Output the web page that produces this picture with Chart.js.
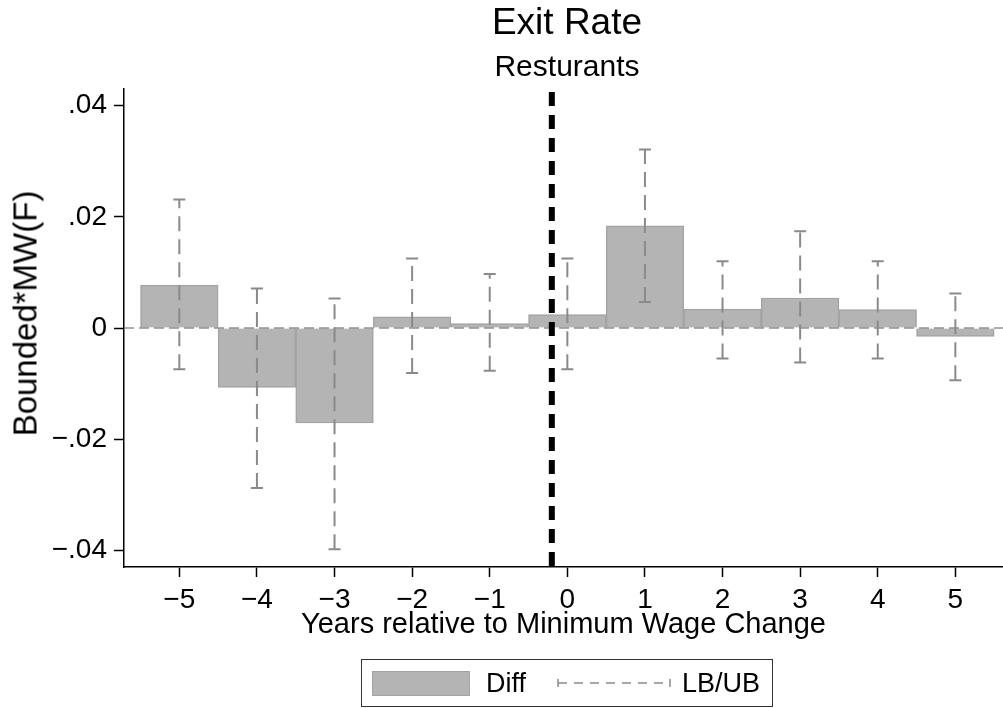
<!DOCTYPE html>
<html>
<head>
<meta charset="utf-8">
<script src="https://cdn.jsdelivr.net/npm/chart.js@4.4.1/dist/chart.umd.min.js"></script>
<style>
  body { margin: 0; background: #fff; font-family: "Liberation Sans", Arial, sans-serif; }
  #wrap { position: relative; width: 1003px; height: 708px; overflow: hidden; }
  .ttl { position: absolute; left: 0; width: 1134px; text-align: center; color: #000; white-space: nowrap; }
  #t1 { top: 3px; font-size: 37px; line-height: 37px; }
  #t2 { top: 51px; font-size: 30px; line-height: 30px; }
  #ytitle { position: absolute; left: -125px; top: 297px; width: 300px; height: 33px; line-height: 33px;
            font-size: 33px; text-align: center; color: #000; white-space: nowrap; transform: rotate(-90deg); }
  #legend { position: absolute; left: 361px; top: 659px; width: 410px; height: 46px; border: 1.5px solid #333; }
  #legend .sw { position: absolute; left: 10px; top: 11px; width: 96px; height: 23px; background: #b4b4b4; border: 1.5px solid #a3a3a3; }
  #legend .txt { position: absolute; top: 6px; font-size: 27px; line-height: 34px; color: #000; }
  #legend svg { position: absolute; left: 194px; top: 15px; }
</style>
</head>
<body>
<div id="wrap">
  <canvas id="chart" width="1003" height="708"></canvas>
  <div class="ttl" id="t1">Exit Rate</div>
  <div class="ttl" id="t2">Resturants</div>
  <div id="ytitle">Bounded*MW(F)</div>
  <div id="legend">
    <div class="sw"></div>
    <div class="txt" style="left:124px">Diff</div>
    <svg width="116" height="16" viewBox="0 0 116 16">
      <line x1="2" y1="4" x2="2" y2="12" stroke="#8a8a8a" stroke-width="1.5"/>
      <line x1="2" y1="8" x2="114" y2="8" stroke="#8a8a8a" stroke-width="1.5" stroke-dasharray="9 7"/>
      <line x1="114" y1="4" x2="114" y2="12" stroke="#8a8a8a" stroke-width="1.5"/>
    </svg>
    <div class="txt" style="left:320px">LB/UB</div>
  </div>
</div>
<script>
// Werte
let years = [-5, -4, -3, -2, -1, 0, 1, 2, 3, 4, 5];
let diff = [0.0077, -0.0107, -0.0171, 0.0020, 0.0008, 0.0024, 0.0184, 0.0034, 0.0054, 0.0033, -0.0015];
let upper = [0.0231, 0.0071, 0.0053, 0.0125, 0.0097, 0.0125, 0.0321, 0.0120, 0.0174, 0.0120, 0.0062];
let lower = [-0.0074, -0.0288, -0.0398, -0.0081, -0.0077, -0.0074, 0.0047, -0.0055, -0.0062, -0.0055, -0.0094];
let yTicks = [-0.04, -0.02, 0, 0.02, 0.04];
let eventLine = -0.2;

Chart.defaults.font.family = '"Liberation Sans", Arial, sans-serif';
Chart.defaults.color = '#000';

// Formatierung wie Stata: .04, −.02
function fmtY(v) {
  if (Math.abs(v) < 1e-9) return '0';
  return (v < 0 ? '\u2212' : '') + Math.abs(v).toFixed(2).replace(/^0/, '');
}
function fmtX(v) {
  return v < 0 ? '\u2212' + Math.abs(v) : String(v);
}

// Nulllinie, Ereignislinie und Konfidenzintervalle
let overlayPlugin = {
  id: 'overlay',
  afterDatasetsDraw(chart) {
    let ctx = chart.ctx, x = chart.scales.x, y = chart.scales.y, area = chart.chartArea;
    ctx.save();

    // zero line
    let y0 = y.getPixelForValue(0);
    ctx.strokeStyle = '#5a5a5a';
    ctx.lineWidth = 1;
    ctx.setLineDash([10, 5]);
    ctx.beginPath();
    ctx.moveTo(area.left, y0);
    ctx.lineTo(area.right, y0);
    ctx.stroke();

    // error bars
    ctx.strokeStyle = '#8a8a8a';
    ctx.lineWidth = 2;
    years.forEach((yr, i) => {
      let px = x.getPixelForValue(yr);
      let top = y.getPixelForValue(upper[i]);
      let bot = y.getPixelForValue(lower[i]);
      ctx.setLineDash([15, 8]);
      ctx.beginPath();
      ctx.moveTo(px, bot);
      ctx.lineTo(px, top);
      ctx.stroke();
      ctx.setLineDash([]);
      ctx.beginPath();
      ctx.moveTo(px - 6, top); ctx.lineTo(px + 6, top);
      ctx.moveTo(px - 6, bot); ctx.lineTo(px + 6, bot);
      ctx.stroke();
    });

    // vertical event line
    let xe = x.getPixelForValue(eventLine);
    ctx.strokeStyle = '#000';
    ctx.lineWidth = 6;
    ctx.setLineDash([14, 9]);
    ctx.beginPath();
    ctx.moveTo(xe, area.top + 3);
    ctx.lineTo(xe, area.bottom);
    ctx.stroke();
    ctx.restore();
  }
};

let config = {
  type: 'bar',
  data: {
    datasets: [{
      label: 'Diff',
      data: years.map((yr, i) => ({ x: yr, y: diff[i] })),
      backgroundColor: '#b4b4b4',
      borderColor: '#a3a3a3',
      borderWidth: 1.5,
      barPercentage: 1,
      categoryPercentage: 1
    }]
  },
  options: {
    responsive: false,
    animation: false,
    layout: { padding: { top: 89, right: 0, bottom: 61, left: 0 } },
    plugins: {
      legend: { display: false },
      tooltip: { enabled: false },
      title: { display: false }
    },
    scales: {
      x: {
        type: 'linear',
        min: -5.713,
        max: 5.614,
        offset: false,
        afterBuildTicks: s => { s.ticks = years.map(v => ({ value: v })); },
        afterFit: s => { s.height = 80; },
        grid: { offset: false, drawOnChartArea: false, drawTicks: true, tickLength: 10, tickColor: '#000', tickWidth: 1.5 },
        border: { color: '#000', width: 1.5 },
        ticks: { font: { size: 28 }, color: '#000', padding: 6, maxRotation: 0, callback: v => fmtX(v) },
        title: { display: true, text: 'Years relative to Minimum Wage Change', font: { size: 29 }, color: '#000', padding: { top: 0, bottom: 5 } }
      },
      y: {
        min: -0.043,
        max: 0.043,
        afterBuildTicks: s => { s.ticks = yTicks.map(v => ({ value: v })); },
        afterFit: s => { s.width = 124; },
        grid: { drawOnChartArea: false, drawTicks: true, tickLength: 10, tickColor: '#000', tickWidth: 1.5 },
        border: { color: '#000', width: 1.5 },
        ticks: { font: { size: 28 }, color: '#000', padding: 7, callback: v => fmtY(v) },
        title: { display: false }
      }
    }
  },
  plugins: [overlayPlugin]
};

let ctx = document.getElementById('chart').getContext('2d');
let chart = new Chart(ctx, config);
</script>
</body>
</html>
